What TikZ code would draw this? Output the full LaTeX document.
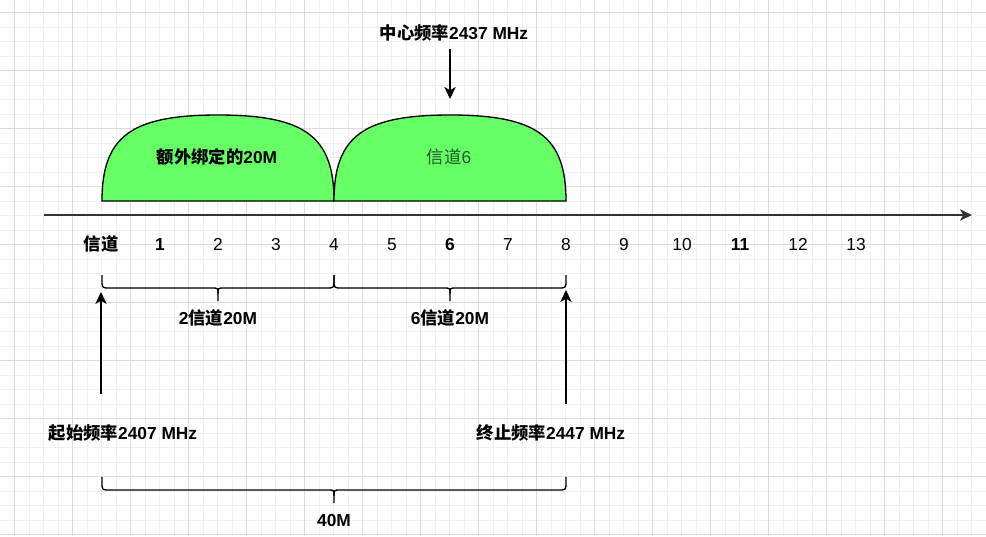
\documentclass[tikz,border=0pt]{standalone}
\usepackage{fontspec}
\setmainfont{Liberation Sans}
\newfontfamily\cjk{Noto Sans CJK SC}
\usetikzlibrary{arrows.meta}
\newcommand{\zh}[1]{{\cjk #1}}
\definecolor{gmin}{HTML}{F0F0F0}
\definecolor{gmaj}{HTML}{DCDCDC}
\definecolor{bandfill}{HTML}{66FF66}
\definecolor{axisc}{HTML}{333333}
\definecolor{darkg}{HTML}{1E5A1E}
\newcommand{\mybrace}[5]{%
  \pgfmathsetmacro\xm{(#1+#2)/2}%
  \draw[brace] (#1,#3) -- (#1,#4-8) .. controls (#1,#4) .. (#1+8,#4) -- (\xm-6,#4) .. controls (\xm,#4) .. (\xm,#4+6) -- (\xm,#5);
  \draw[brace] (#2,#3) -- (#2,#4-8) .. controls (#2,#4) .. (#2-8,#4) -- (\xm+6,#4) .. controls (\xm,#4) .. (\xm,#4+6);
}
\begin{document}
\begin{tikzpicture}[x=0.75pt,y=-0.75pt,
  lbl/.style={inner sep=0pt, font=\fontsize{13}{15}\selectfont},
  blbl/.style={inner sep=0pt, font=\fontsize{13}{15}\selectfont\bfseries},
  band/.style={draw=black, line width=1pt, fill=bandfill},
  brace/.style={draw=black, line width=1pt, line join=round},
  conn/.style={draw=black, line width=1.1pt, -{Stealth[length=9pt,width=8.5pt,inset=2.5pt]}},
]
\fill[white] (0,0) rectangle (986,536);
\useasboundingbox (0,0) rectangle (986,536);
% grid
\foreach \i in {1,...,67} \draw[gmin, line width=0.75pt] (14.5*\i,0) -- (14.5*\i,536);
\foreach \i in {0,...,36} \draw[gmin, line width=0.75pt] (0,12.5+14.5*\i) -- (986,12.5+14.5*\i);
\foreach \i in {0,...,16} \draw[gmaj, line width=0.75pt] (14.5+58*\i,0) -- (14.5+58*\i,536);
\foreach \i in {0,...,9} \draw[gmaj, line width=0.75pt] (0,12.5+58*\i) -- (986,12.5+58*\i);
% bands
\path[band] (102,201) .. controls (102,136.5) and (131,115) .. (218,115) .. controls (305,115) and (334,136.5) .. (334,201) -- cycle;
\path[band] (334,201) .. controls (334,136.5) and (363,115) .. (450,115) .. controls (537,115) and (566,136.5) .. (566,201) -- cycle;
\node[blbl] (bandA) at (217,157) {\zh{额外绑定的}20M};
\node[lbl, text=darkg] (bandB) at (449,157) {\zh{信道}6};
% axis
\coordinate (axs) at (44,215);
\coordinate (axe) at (972,215);
\draw[conn, draw=axisc, line width=1.2pt] (axs) -- (axe);
% channel labels
\node[blbl, anchor=base] (c0) at (101,250) {\zh{信道}};
\foreach \n/\s in {1/b,2/r,3/r,4/r,5/r,6/b,7/r,8/r,9/r,10/r,11/b,12/r,13/r}{
  \if b\s
    \node[blbl, anchor=base] (c\n) at (102+58*\n,250) {\n};
  \else
    \node[lbl, anchor=base] (c\n) at (102+58*\n,250) {\n};
  \fi
}
% center frequency
\node[blbl] (center) at (454,33) {\zh{中心频率}2437 MHz};
\coordinate (cstart) at (450,49);
\coordinate (ctip) at (450,99);
\draw[conn] (cstart) -- (ctip);
% braces
\mybrace{102}{334}{275}{288}{301}
\mybrace{334}{566}{275}{288}{301}
\mybrace{102}{566}{477}{490}{503}
\node[blbl] (w2) at (218,318) {2\zh{信道}20M};
\node[blbl] (w6) at (450,318) {6\zh{信道}20M};
\node[blbl] (w40) at (334,521) {40M};
% start / end frequencies
\node[blbl] (fstart) at (123,433) {\zh{起始频率}2407 MHz};
\node[blbl] (fend) at (551,433) {\zh{终止频率}2447 MHz};
\coordinate (la) at (101,394);
\coordinate (lt) at (101,292);
\coordinate (ra) at (566,404);
\coordinate (rt) at (566,290);
\draw[conn] (la) -- (lt);
\draw[conn] (ra) -- (rt);
\end{tikzpicture}
\end{document}
